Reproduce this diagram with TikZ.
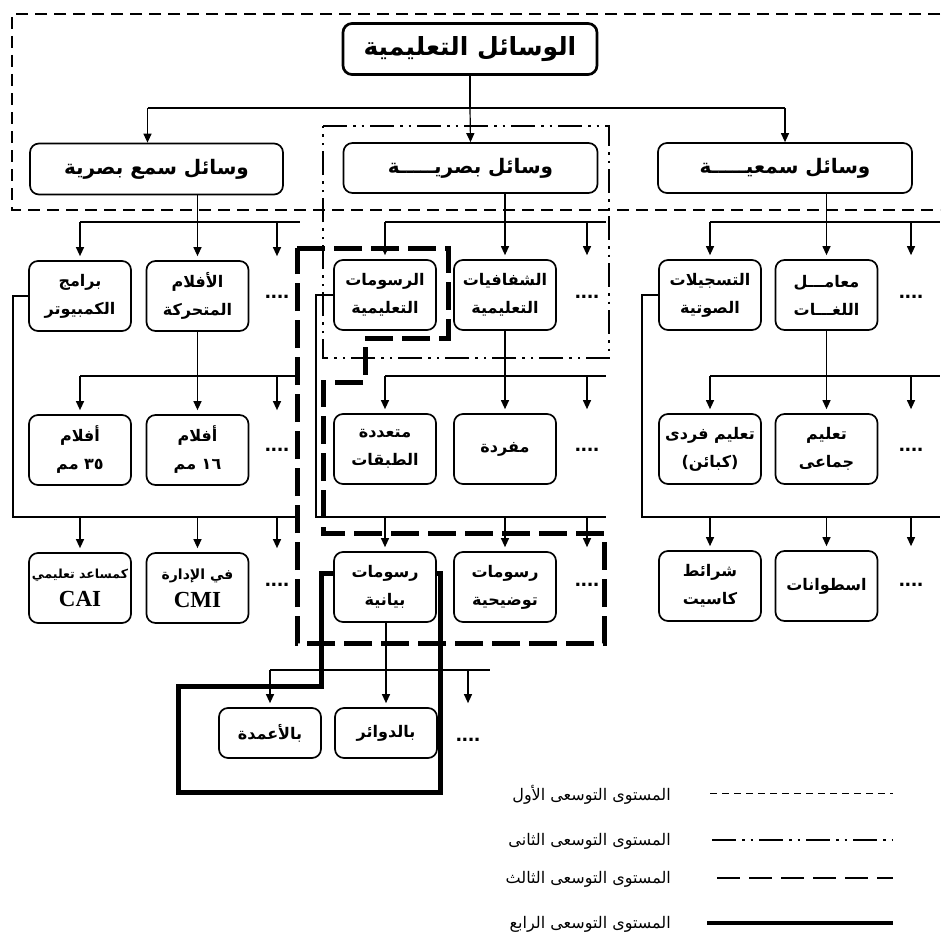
\documentclass[tikz,border=0pt]{standalone}
\usepackage{fontspec}
\usetikzlibrary{arrows.meta,calc}
\TeXXeTstate=1
\newfontfamily\arabicfont[Script=Arabic]{DejaVu Sans}
\newfontfamily\latinserif{Liberation Serif}
\newfontfamily\latinsans{Liberation Sans}
\newcommand\rl[1]{\beginR#1\endR}
\begin{document}
\begin{tikzpicture}[x=1pt,y=-1pt,
  box/.style={draw,line width=1.7pt,rounded corners=9pt,minimum width=102pt,minimum height=70pt,
    inner sep=0pt,align=center,font=\arabicfont\bfseries\fontsize{16}{28}\selectfont},
  smallbox/.style={box,minimum height=50pt},
  bigbox/.style={box,minimum width=254pt,minimum height=51pt,font=\arabicfont\bfseries\fontsize{20}{24}\selectfont},
  titlebox/.style={bigbox,line width=2.7pt,font=\arabicfont\bfseries\fontsize{25}{28}\selectfont},
  ln/.style={line width=1.2pt},
  arr/.style={ln,-{Triangle[length=9pt,width=8pt]}},
  arrs/.style={arr,shorten >=4pt},
  dotsn/.style={font=\latinsans\bfseries\fontsize{22}{22}\selectfont,inner sep=0pt},
  lvlone/.style={line width=1.1pt,dash pattern=on 12pt off 7pt},
  lvltwo/.style={line width=1.3pt,dash pattern=on 24pt off 6pt on 2.5pt off 6pt on 2.5pt off 6pt},
  lvlthree/.style={line width=5pt,dash pattern=on 28pt off 9pt},
  lvlfour/.style={line width=5pt},
  legtext/.style={anchor=east,inner sep=0pt,font=\arabicfont\fontsize{16}{18}\selectfont}
]
\fill[white] (0,0) rectangle (940,942);
\useasboundingbox (0,0) rectangle (940,942);

% ---------- expansion level outlines ----------
\draw[lvlone] (940,14) -- (12,14) -- (12,210) -- (940,210);
\draw[lvltwo] (323,126) -- (609,126) -- (609,358) -- (323,358) -- cycle;
\draw[lvlthree] (297,248) -- (448,248) -- (448,338) -- (365,338) -- (365,382) -- (323,382)
  -- (323,533) -- (604,533) -- (604,643) -- (297,643) -- cycle;
\draw[lvlfour,line join=miter] (333,573) -- (321,573) -- (321,686) -- (178,686) -- (178,792)
  -- (440,792) -- (440,573) -- (437,573);

% ---------- nodes ----------
\node[titlebox] (t) at (470,49) {\rl{الوسائل التعليمية}};
\node[bigbox,minimum width=253pt] (sb) at (156.5,169) {\rl{وسائل سمع بصرية}};
\node[bigbox,minimum height=50pt] (bv) at (470.5,168) {\rl{وسائل بصريـــــة}};
\node[bigbox,minimum height=50pt] (sv) at (785,168) {\rl{وسائل سمعيـــــة}};

\node[box] (A1) at (80,296) {\rl{برامج}\\\rl{الكمبيوتر}};
\node[box] (A2) at (197.5,296) {\rl{الأفلام}\\\rl{المتحركة}};
\node[dotsn] (dA2) at (277,297) {....};
\node[box] (B1) at (385,295) {\rl{الرسومات}\\\rl{التعليمية}};
\node[box] (B2) at (505,295) {\rl{الشفافيات}\\\rl{التعليمية}};
\node[dotsn] (dB2) at (587,297) {....};
\node[box] (C1) at (710,295) {\rl{التسجيلات}\\\rl{الصوتية}};
\node[box] (C2) at (826.5,295) {\rl{معامـــل}\\\rl{اللغـــات}};
\node[dotsn] (dC2) at (911,297) {....};

\node[box] (A3) at (80,450) {\rl{أفلام}\\\rl{٣٥ مم}};
\node[box] (A4) at (197.5,450) {\rl{أفلام}\\\rl{١٦ مم}};
\node[dotsn] (dA4) at (277,450) {....};
\node[box] (B3) at (385,449) {\rl{متعددة}\\\rl{الطبقات}};
\node[box] (B4) at (505,449) {\rl{مفردة}};
\node[dotsn] (dB4) at (587,450) {....};
\node[box] (C3) at (710,449) {\rl{تعليم فردى}\\\rl{(كبائن)}};
\node[box] (C4) at (826.5,449) {\rl{تعليم}\\\rl{جماعى}};
\node[dotsn] (dC4) at (911,450) {....};

\node[box] (A5) at (80,588) {{\fontsize{12.5}{24}\selectfont\rl{كمساعد تعليمي}}\\{\latinserif\bfseries\fontsize{23}{24}\selectfont CAI}};
\node[box] (A6) at (197.5,588) {{\fontsize{14}{24}\selectfont\rl{في الإدارة}}\\{\latinserif\bfseries\fontsize{23}{24}\selectfont CMI}};
\node[dotsn] (dA6) at (277,585) {....};
\node[box] (B5) at (385,587) {\rl{رسومات}\\\rl{بيانية}};
\node[box] (B6) at (505,587) {\rl{رسومات}\\\rl{توضيحية}};
\node[dotsn] (dB6) at (587,585) {....};
\node[box] (C5) at (710,586) {\rl{شرائط}\\\rl{كاسيت}};
\node[box] (C6) at (826.5,586) {\rl{اسطوانات}};
\node[dotsn] (dC6) at (911,585) {....};

\node[smallbox] (D1) at (270,733) {\rl{بالأعمدة}};
\node[smallbox] (D2) at (386,733) {\rl{بالدوائر}};
\node[dotsn] (dD2) at (468,740) {....};

% ---------- level coordinates ----------
\coordinate (y1) at (0,108);
\coordinate (y2) at (0,222);
\coordinate (y3) at (0,376);
\coordinate (y4) at (0,517);
\coordinate (y5) at (0,670);
\coordinate (sbtop) at ($(sb.north)+(-9,0)$);
\coordinate (kA) at (13,0);
\coordinate (kB) at (316,0);
\coordinate (kC) at (642,0);
\coordinate (eL) at (300,0);
\coordinate (eM) at (606,0);
\coordinate (eR) at (940,0);
\coordinate (eD) at (490,0);

% ---------- connectors: top ----------
\draw[ln] (t.south) -- (t.south |- y1);
\draw[ln] (sbtop |- y1) -- (sv.north |- y1);
\draw[arr] (sbtop |- y1) -- (sbtop);
\draw[arr] (t.south |- y1) -- (bv.north);
\draw[arr] (sv.north |- y1) -- (sv.north);

% ---------- level 2 ----------
\draw[ln] (sb.south -| A2.north) -- (A2.north |- y2);
\draw[ln] (A1.north |- y2) -- (eL |- y2);
\draw[arrs] (A1.north |- y2) -- (A1.north);
\draw[arrs] (A2.north |- y2) -- (A2.north);
\draw[arrs] (dA2 |- y2) -- (dA2 |- A2.north);

\draw[ln] (bv.south -| B2.north) -- (B2.north |- y2);
\draw[ln] (B1.north |- y2) -- (eM |- y2);
\draw[arrs] (B1.north |- y2) -- (B1.north);
\draw[arrs] (B2.north |- y2) -- (B2.north);
\draw[arrs] (dB2 |- y2) -- (dB2 |- B2.north);

\draw[ln] (sv.south -| C2.north) -- (C2.north |- y2);
\draw[ln] (C1.north |- y2) -- (eR |- y2);
\draw[arrs] (C1.north |- y2) -- (C1.north);
\draw[arrs] (C2.north |- y2) -- (C2.north);
\draw[arrs] (dC2 |- y2) -- (dC2 |- C2.north);

% ---------- level 3 ----------
\draw[ln] (A2.south) -- (A2.south |- y3);
\draw[ln] (A3.north |- y3) -- (eL |- y3);
\draw[arrs] (A3.north |- y3) -- (A3.north);
\draw[arrs] (A4.north |- y3) -- (A4.north);
\draw[arrs] (dA4 |- y3) -- (dA4 |- A4.north);

\draw[ln] (B2.south) -- (B2.south |- y3);
\draw[ln] (B3.north |- y3) -- (eM |- y3);
\draw[arrs] (B3.north |- y3) -- (B3.north);
\draw[arrs] (B4.north |- y3) -- (B4.north);
\draw[arrs] (dB4 |- y3) -- (dB4 |- B4.north);

\draw[ln] (C2.south) -- (C2.south |- y3);
\draw[ln] (C3.north |- y3) -- (eR |- y3);
\draw[arrs] (C3.north |- y3) -- (C3.north);
\draw[arrs] (C4.north |- y3) -- (C4.north);
\draw[arrs] (dC4 |- y3) -- (dC4 |- C4.north);

% ---------- level 4 ----------
\draw[ln] (A1.west) -| (kA |- y4) -- (eL |- y4);
\draw[arrs] (A5.north |- y4) -- (A5.north);
\draw[arrs] (A6.north |- y4) -- (A6.north);
\draw[arrs] (dA6 |- y4) -- (dA6 |- A6.north);

\draw[ln] (B1.west) -| (kB |- y4) -- (eM |- y4);
\draw[arrs] (B5.north |- y4) -- (B5.north);
\draw[arrs] (B6.north |- y4) -- (B6.north);
\draw[arrs] (dB6 |- y4) -- (dB6 |- B6.north);

\draw[ln] (C1.west) -| (kC |- y4) -- (eR |- y4);
\draw[arrs] (C5.north |- y4) -- (C5.north);
\draw[arrs] (C6.north |- y4) -- (C6.north);
\draw[arrs] (dC6 |- y4) -- (dC6 |- C6.north);

% ---------- level 5 ----------
\draw[ln] (B5.south -| D2.north) -- (D2.north |- y5);
\draw[ln] (D1.north |- y5) -- (eD |- y5);
\draw[arrs] (D1.north |- y5) -- (D1.north);
\draw[arrs] (D2.north |- y5) -- (D2.north);
\draw[arrs] (dD2 |- y5) -- (dD2 |- D2.north);

% ---------- legend ----------
\draw[line width=0.8pt,dash pattern=on 7pt off 5pt] (710,793) -- (893,793);
\draw[lvltwo] (712,840) -- (893,840);
\draw[line width=2.6pt,dash pattern=on 23pt off 9pt] (717,878) -- (893,878);
\draw[line width=3.6pt] (707,923) -- (893,923);
\node[legtext] (g1) at (671,795) {\rl{المستوى التوسعى الأول}};
\node[legtext] (g2) at (671,841) {\rl{المستوى التوسعى الثانى}};
\node[legtext] (g3) at (671,879) {\rl{المستوى التوسعى الثالث}};
\node[legtext] (g4) at (671,924) {\rl{المستوى التوسعى الرابع}};
\end{tikzpicture}
\end{document}
